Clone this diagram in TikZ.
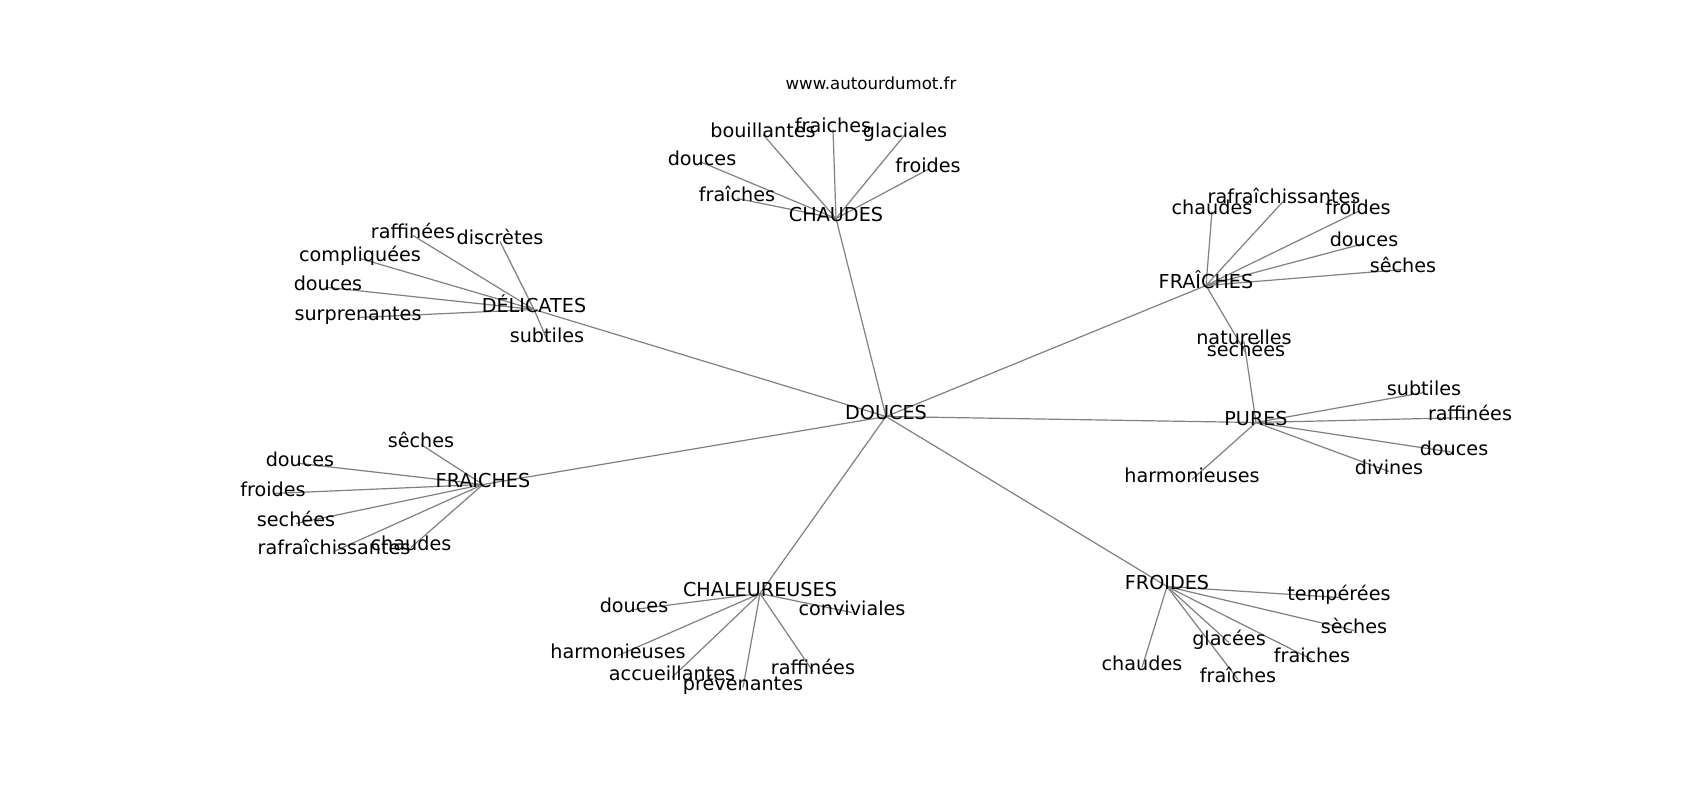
\documentclass[tikz,border=0pt]{standalone}
\usepackage{fontspec}
\setmainfont{DejaVu Sans}
\usetikzlibrary{backgrounds}
\definecolor{edgec}{RGB}{128,128,128}
\tikzset{
  lbl/.style={inner sep=0pt, text height=0.76em, text depth=0.24em, font=\fontsize{19.2}{22}\selectfont},
  ttl/.style={inner sep=0pt, text height=0.76em, text depth=0.24em, font=\fontsize{16.6}{19}\selectfont},
  edge/.style={draw=edgec, line width=1.2pt}
}
\begin{document}
\begin{tikzpicture}[x=1pt,y=-1pt]
\useasboundingbox (0,0) rectangle (1700,800);
\begin{scope}[shift={(0,3.5)}]
% title
\node[ttl] (title) at (871,83) {www.autourdumot.fr};
% centre
\node[lbl] (d) at (886,413) {DOUCES};
% CHAUDES
\node[lbl] (ch) at (836,215) {CHAUDES};
\node[lbl] (ch1) at (763,131) {bouillantes};
\node[lbl] (ch2) at (833,126) {fraiches};
\node[lbl] (ch3) at (905,131) {glaciales};
\node[lbl] (ch4) at (928,166) {froides};
\node[lbl] (ch5) at (702,159) {douces};
\node[lbl] (ch6) at (737,195) {fraîches};
% DELICATES
\node[lbl] (de) at (534,306) {DÉLICATES};
\node[lbl] (de1) at (413,232) {raffinées};
\node[lbl] (de2) at (500,238) {discrètes};
\node[lbl] (de3) at (360,255) {compliquées};
\node[lbl] (de4) at (328,284) {douces};
\node[lbl] (de5) at (358,314) {surprenantes};
\node[lbl] (de6) at (547,336) {subtiles};
% FRAÎCHES (right)
\node[lbl] (fr) at (1206,282) {FRAÎCHES};
\node[lbl] (fr1) at (1212,208) {chaudes};
\node[lbl] (fr2) at (1284,197) {rafraîchissantes};
\node[lbl] (fr3) at (1358,208) {froides};
\node[lbl] (fr4) at (1364,240) {douces};
\node[lbl] (fr5) at (1403,266) {sêches};
\node[lbl] (nat) at (1244,338) {naturelles};
\node[lbl] (sec) at (1246,350) {sechées};
% PURES
\node[lbl] (pu) at (1256,419) {PURES};
\node[lbl] (pu1) at (1424,389) {subtiles};
\node[lbl] (pu2) at (1470,414) {raffinées};
\node[lbl] (pu3) at (1454,449) {douces};
\node[lbl] (pu4) at (1389,468) {divines};
\node[lbl] (pu5) at (1192,476) {harmonieuses};
% FROIDES
\node[lbl] (fo) at (1167,583) {FROIDES};
\node[lbl] (fo1) at (1339,594) {tempérées};
\node[lbl] (fo2) at (1354,627) {sèches};
\node[lbl] (fo3) at (1312,656) {fraiches};
\node[lbl] (fo4) at (1229,639) {glacées};
\node[lbl] (fo5) at (1238,676) {fraîches};
\node[lbl] (fo6) at (1142,664) {chaudes};
% CHALEUREUSES
\node[lbl] (cl) at (760,590) {CHALEUREUSES};
\node[lbl] (cl1) at (634,606) {douces};
\node[lbl] (cl2) at (852,609) {conviviales};
\node[lbl] (cl3) at (618,652) {harmonieuses};
\node[lbl] (cl4) at (672,674) {accueillantes};
\node[lbl] (cl5) at (743,684) {prévenantes};
\node[lbl] (cl6) at (813,668) {raffinées};
% FRAICHES (left)
\node[lbl] (fl) at (483,481) {FRAICHES};
\node[lbl] (fl1) at (421,441) {sêches};
\node[lbl] (fl2) at (300,460) {douces};
\node[lbl] (fl3) at (273,490) {froides};
\node[lbl] (fl4) at (296,520) {sechées};
\node[lbl] (fl5) at (334,548) {rafraîchissantes};
\node[lbl] (fl6) at (411,544) {chaudes};
\end{scope}
\begin{pgfonlayer}{background}
\fill[white] (0,0) rectangle (1700,800);
\foreach \a/\b in {d/ch,d/de,d/fr,d/pu,d/fo,d/cl,d/fl,
  ch/ch1,ch/ch2,ch/ch3,ch/ch4,ch/ch5,ch/ch6,
  de/de1,de/de2,de/de3,de/de4,de/de5,de/de6,
  fr/fr1,fr/fr2,fr/fr3,fr/fr4,fr/fr5,fr/sec,pu/nat,
  pu/pu1,pu/pu2,pu/pu3,pu/pu4,pu/pu5,
  fo/fo1,fo/fo2,fo/fo3,fo/fo4,fo/fo5,fo/fo6,
  cl/cl1,cl/cl2,cl/cl3,cl/cl4,cl/cl5,cl/cl6,
  fl/fl1,fl/fl2,fl/fl3,fl/fl4,fl/fl5,fl/fl6}
  \draw[edge] (\a.center) -- (\b.center);
\end{pgfonlayer}
\end{tikzpicture}
\end{document}
